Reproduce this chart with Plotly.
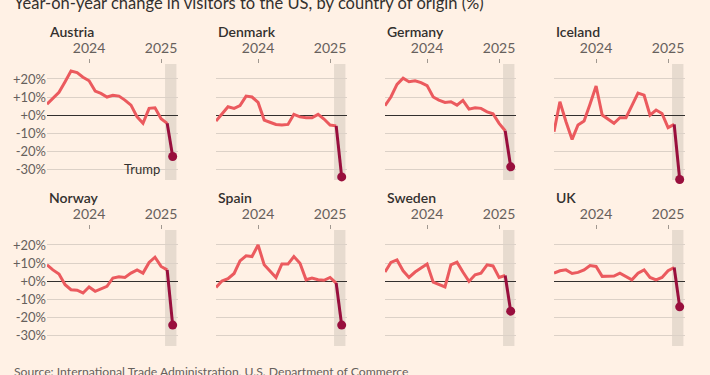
import plotly.graph_objects as go
import pandas as pd

months = [d.strftime("%Y-%m-%d") for d in pd.date_range("2023-06-01", "2025-03-01", freq="MS")]

countries = ["Austria", "Denmark", "Germany", "Iceland", "Norway", "Spain", "Sweden", "UK"]

austria = [6, 9, 12.6, 18.5, 24.4, 23.5, 21, 19, 13.3, 12, 10, 11, 10.5, 8.3, 5.5, -1, -4.6, 3.7, 4, -2, -4.6, -23]
denmark = [-3.3, 0.4, 4.6, 3.7, 5.2, 10.5, 10, 7, -2.8, -4, -5.2, -5.5, -5.2, 0.4, -1, -1.5, -1.5, 0.4, -2.2, -5.5, -6, -34.3]
germany = [5.2, 10, 17, 20.4, 18.5, 19, 18, 16.3, 10, 8.3, 7, 7.4, 5.5, 8.1, 3.3, 4, 3.7, 1.8, 0.7, -4.6, -8.7, -28.7]
iceland = [-9.3, 7.4, -3.7, -13.5, -5.5, -3.3, 6, 16.1, 0, -2.2, -4.6, -1.5, -1.5, 5.2, 12.2, 11, 0, 2.8, 0.9, -7, -5.2, -35.7]
norway = [9, 6.2, 3.9, -2, -4.8, -5.1, -6.6, -3.3, -5.7, -4.4, -2.9, 1.7, 2.4, 2, 4.4, 6.2, 4.4, 10.3, 13.2, 8.1, 6.2, -24.4]
spain = [-3.5, 0, 1.3, 4.2, 11.2, 14, 13.6, 20, 9, 5.7, 2, 9.5, 9.4, 13.6, 9.9, 0.7, 1.7, 0.7, 0.4, 2, -1.1, -24.4]
sweden = [5, 10.3, 11.7, 5.7, 2, 5, 7.2, 9.4, -0.6, -2, -3.3, 9, 10.5, 5, -0.2, 3.5, 4.4, 9, 8.4, 2, 3.1, -16.7]
uk = [4.4, 5.7, 6.2, 4.2, 4.8, 6.2, 8.6, 8.1, 2.6, 2.6, 2.8, 4.4, 2.6, 0.7, 4.4, 6.2, 2, 0.6, 2, 5.7, 7.5, -14.3]

series = [austria, denmark, germany, iceland, norway, spain, sweden, uk]

y_tickvals = [-30, -20, -10, 0, 10, 20]
y_ticktext = ["-30%", "-20%", "-10%", "+0%", "+10%", "+20%"]
x_tickvals = ["2024-01-01", "2025-01-01"]
x_ticktext = ["2024", "2025"]

W, H = 710, 375
BG = "#FFF1E5"
RED = "#EB5A5E"
CLARET = "#990F3D"
DARK = "#33302E"
GREY = "#66605C"
FONT = "Lato"

col_left = [47, 216, 385, 554]
panel_w = 131
row_top = [64, 230]
panel_h = 116

fig = go.Figure()
layout = dict(
    width=W, height=H, paper_bgcolor=BG, plot_bgcolor=BG,
    margin=dict(l=0, r=0, t=0, b=0), showlegend=False,
    font=dict(family=FONT, color=GREY, size=13),
)
shapes = []
annotations = []

for k, (name, vals) in enumerate(zip(countries, series)):
    r, c = divmod(k, 4)
    idx = "" if k == 0 else str(k + 1)
    x0 = col_left[c] / W
    x1 = (col_left[c] + panel_w) / W
    y1 = 1 - row_top[r] / H
    y0 = 1 - (row_top[r] + panel_h) / H
    layout["xaxis" + idx] = dict(
        domain=[x0, x1], anchor="y" + idx, side="top",
        range=["2023-06-01", "2025-03-28"], type="date",
        tickvals=x_tickvals, ticktext=x_ticktext,
        ticks="outside", ticklen=4, tickcolor="#A09890", tickwidth=1,
        showgrid=False, zeroline=False, showline=False,
        tickfont=dict(size=14, color=GREY, family=FONT),
    )
    layout["yaxis" + idx] = dict(
        domain=[y0, y1], anchor="x" + idx,
        range=[-36, 28.3], tickvals=y_tickvals, ticktext=y_ticktext,
        showticklabels=(c == 0), showgrid=True, gridcolor="#DCD1C7", gridwidth=1,
        zeroline=True, zerolinecolor=DARK, zerolinewidth=1,
        ticks="", tickfont=dict(size=13, color=GREY, family=FONT),
    )
    xr = "x" + idx
    yr = "y" + idx
    shapes.append(dict(type="rect", xref=xr, yref=yr + " domain",
                       x0="2025-01-21", x1="2025-03-20", y0=0, y1=1,
                       fillcolor="rgba(170,160,150,0.28)", line=dict(width=0), layer="below"))
    fig.add_trace(go.Scatter(x=months[:-1], y=vals[:-1], mode="lines",
                             line=dict(color=RED, width=3), xaxis=xr, yaxis=yr,
                             hoverinfo="skip"))
    fig.add_trace(go.Scatter(x=months[-2:], y=vals[-2:], mode="lines",
                             line=dict(color=CLARET, width=3), xaxis=xr, yaxis=yr,
                             hoverinfo="skip", cliponaxis=False))
    fig.add_trace(go.Scatter(x=months[-1:], y=vals[-1:], mode="markers",
                             marker=dict(color=CLARET, size=9), xaxis=xr, yaxis=yr,
                             hoverinfo="skip", cliponaxis=False))
    annotations.append(dict(text=name, xref="paper", yref="paper",
                            x=x0, y=1 - (row_top[r] - 33) / H,
                            xanchor="left", yanchor="middle", showarrow=False,
                            font=dict(size=14, color=DARK, family=FONT, weight=600)))

annotations.append(dict(text="Trump", xref="x", yref="y", x="2025-01-08", y=-30,
                        xanchor="right", yanchor="middle", showarrow=False,
                        font=dict(size=13, color=DARK, family=FONT)))
annotations.append(dict(text="Year-on-year change in visitors to the US, by country of origin (%)",
                        xref="paper", yref="paper", x=12 / W, y=1 - 3 / H,
                        xanchor="left", yanchor="middle", showarrow=False,
                        font=dict(size=16.5, color=DARK, family=FONT)))
annotations.append(dict(text="Source: International Trade Administration, U.S. Department of Commerce",
                        xref="paper", yref="paper", x=12 / W, y=1 - 371.5 / H,
                        xanchor="left", yanchor="middle", showarrow=False,
                        font=dict(size=12.2, color=GREY, family=FONT)))

layout["shapes"] = shapes
layout["annotations"] = annotations
fig.update_layout(**layout)
fig.write_html("out.html", config={"displayModeBar": False},
               post_script="document.body.style.margin='0';document.body.style.padding='0';document.body.style.overflow='hidden';")
